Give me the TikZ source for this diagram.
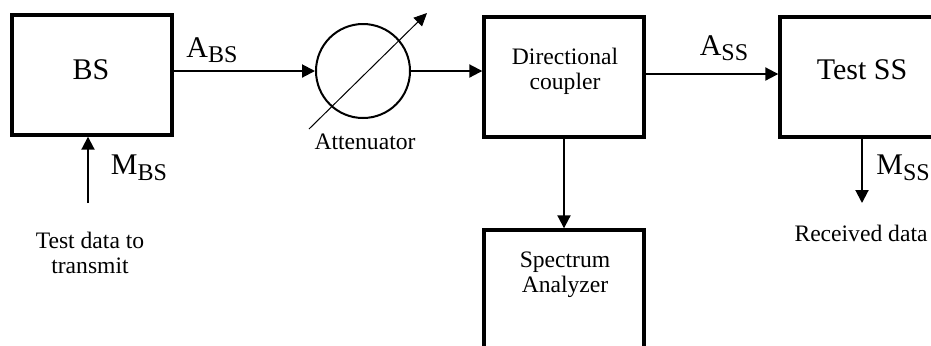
\documentclass[tikz,border=0pt]{standalone}
\usepackage{fontspec}
\setmainfont{Liberation Serif}
\usetikzlibrary{arrows.meta}
\newcommand{\bigtxt}{\fontsize{15}{17}\selectfont}
\newcommand{\smalltxt}{\fontsize{11.8}{12.6}\selectfont}
\newcommand{\lowsub}[1]{\raisebox{-0.4ex}{\fontsize{12}{12}\selectfont #1}}
\begin{document}
\begin{tikzpicture}[x=0.5pt,y=-0.5pt,
  blk/.style={draw,line width=1.7pt,minimum width=80pt,minimum height=60pt,inner sep=0pt},
  sig/.style={-{Triangle[length=6.5pt,width=6.5pt]},line width=1pt}]
\useasboundingbox (0,0) rectangle (931,345);
\clip (0,0) rectangle (931,345);
% boxes
\node[blk] (bs) at (92,75) {};
\node[blk] (dc) at (564,77) {};
\node[blk] (sa) at (564,290) {};
\node[blk] (ss) at (860,77) {};
\node[draw,circle,line width=1pt,minimum size=47pt,inner sep=0pt] (att) at (363,71) {};
% box texts
\node[font=\bigtxt] at (91,70) {BS};
\node[font=\bigtxt] at (862,70) {Test SS};
\node[font=\smalltxt,align=center] at (565,71) {Directional\\coupler};
\node[font=\smalltxt,align=center] at (565,275) {Spectrum\\Analyzer};
\node[font=\smalltxt] at (365,142) {Attenuator};
% signals
\draw[sig] (bs.east |- att) -- (att.west);
\draw[sig] (att.east) -- (att.east -| dc.west);
\draw[sig] ([yshift=1.5pt]dc.east) -- ([yshift=1.5pt]ss.west);
\draw[sig] (dc.south) -- (sa.north);
\draw[-{Triangle[length=6.5pt,width=6pt]},line width=0.5pt] (309,129) -- (427,13);
\coordinate (mbs) at (88,203);
\coordinate (mss) at (862,203);
\draw[sig] (mbs) -- (mbs |- bs.south);
\draw[sig] (mss |- ss.south) -- (mss);
% labels
\node[font=\bigtxt] at (212,50) {A\lowsub{BS}};
\node[font=\bigtxt] at (139,168) {M\lowsub{BS}};
\node[font=\bigtxt] at (724,48) {A\lowsub{SS}};
\node[font=\bigtxt] at (903,168) {M\lowsub{SS}};
\node[font=\smalltxt] at (861,233) {Received data};
\node[font=\smalltxt,align=center] at (90,253) {Test data to\\transmit};
\end{tikzpicture}
\end{document}
